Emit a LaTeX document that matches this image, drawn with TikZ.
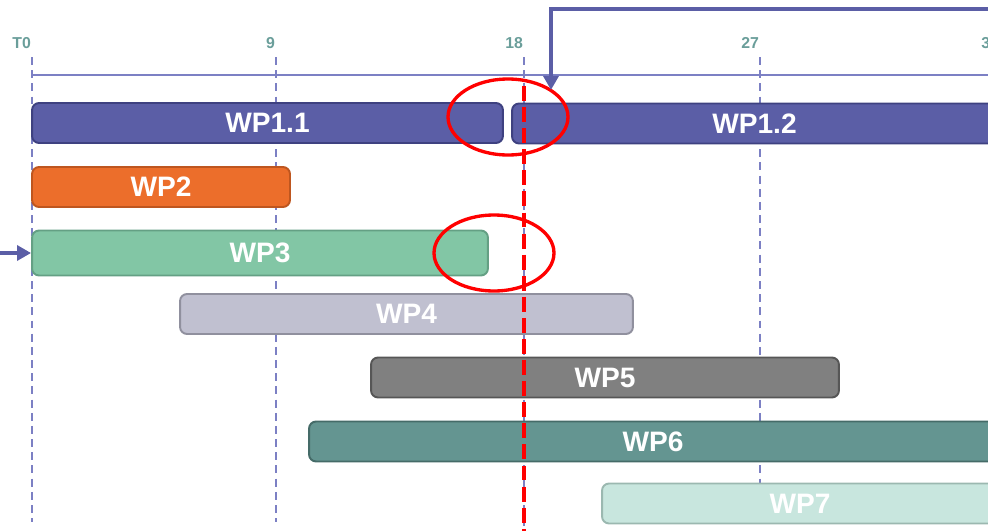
\documentclass[tikz,border=0pt]{standalone}
\usepackage{fontspec}
\setmainfont{Liberation Sans}
\usetikzlibrary{arrows.meta,shapes.geometric,positioning}

\definecolor{wpblue}{HTML}{5B5EA6}
\definecolor{wpblueD}{HTML}{3E4180}
\definecolor{wporange}{HTML}{EC6E2B}
\definecolor{wporangeD}{HTML}{BE561F}
\definecolor{wpgreen}{HTML}{82C6A5}
\definecolor{wpgreenD}{HTML}{64A084}
\definecolor{wplav}{HTML}{C0C0D0}
\definecolor{wplavD}{HTML}{90909E}
\definecolor{wpgray}{HTML}{808080}
\definecolor{wpgrayD}{HTML}{565656}
\definecolor{wpteal}{HTML}{649591}
\definecolor{wptealD}{HTML}{456B68}
\definecolor{wpmint}{HTML}{C8E6DE}
\definecolor{wpmintD}{HTML}{9BB8B0}
\definecolor{wpgrid}{HTML}{7C80C4}
\definecolor{wptick}{HTML}{6A9E9A}

\tikzset{
  wp/.style={draw, line width=1.1pt, rounded corners=4pt, minimum height=0.8cm,
    inner sep=0pt, text=white, font=\fontsize{16}{16}\selectfont\bfseries},
  grid line/.style={wpgrid, line width=0.6pt, dash pattern=on 4.5pt off 3pt},
  tick/.style={anchor=south east, text=wptick, inner sep=1pt,
    font=\fontsize{9}{9}\selectfont\bfseries},
  flow/.style={wpblue, line width=2.8pt, -{Triangle[width=8.5pt,length=8pt]}},
  hilite/.style={draw=red, line width=1.9pt, ellipse, inner sep=0pt},
}

\begin{document}
\begin{tikzpicture}[x=0.02cm, y=-0.02cm]
\useasboundingbox (0,0) rectangle (988,531);
\clip (0,0) rectangle (988,531);

% time axis and month grid
\foreach \t/\x/\e in {T0/32/522, 9/276/522, 18/524/531, 27/760/484, 36/1000/531}{
  \draw[grid line] (\x,57) -- (\x,\e);
  \node[tick] (t\t) at (\x+1,51) {\t};
}
\draw[wpgrid, line width=0.8pt] (32,75) -- (1000,75);

% work packages
\node[wp, fill=wpblue, draw=wpblueD, minimum width=9.42cm] (wp11) at (267.5,123) {WP1.1};
\node[wp, fill=wpblue, draw=wpblueD, minimum width=9.7cm] (wp12) at (754.5,123.5) {WP1.2};
\node[wp, fill=wporange, draw=wporangeD, minimum width=5.16cm] (wp2) at (161,187) {WP2};
\node[wp, fill=wpgreen, draw=wpgreenD, minimum width=9.12cm, minimum height=0.9cm] (wp3) at (260,253) {WP3};
\node[wp, fill=wplav, draw=wplavD, minimum width=9.06cm] (wp4) at (406.5,314) {WP4};
\node[wp, fill=wpgray, draw=wpgrayD, minimum width=9.36cm] (wp5) at (605,377.5) {WP5};
\node[wp, fill=wpteal, draw=wptealD, minimum width=13.76cm] (wp6) at (653,441.5) {WP6};
\node[wp, fill=wpmint, draw=wpmintD, minimum width=7.92cm] (wp7) at (800,503.5) {WP7};

% cut-off line and highlights
\draw[red, line width=2.7pt, dash pattern=on 8.5pt off 3.5pt] (524,86) -- (524,531);
\node[hilite, minimum width=2.4cm, minimum height=1.52cm] (ring1) at (508,117) {};
\node[hilite, minimum width=2.4cm, minimum height=1.52cm] (ring2) at (494,253) {};

% incoming links
\coordinate (src) at (1000,9);
\coordinate (drop) at (551,90);
\draw[flow] (src) -| (drop);
\coordinate (feed) at (0,253);
\draw[flow] (feed) -- (wp3.west);
\end{tikzpicture}
\end{document}
